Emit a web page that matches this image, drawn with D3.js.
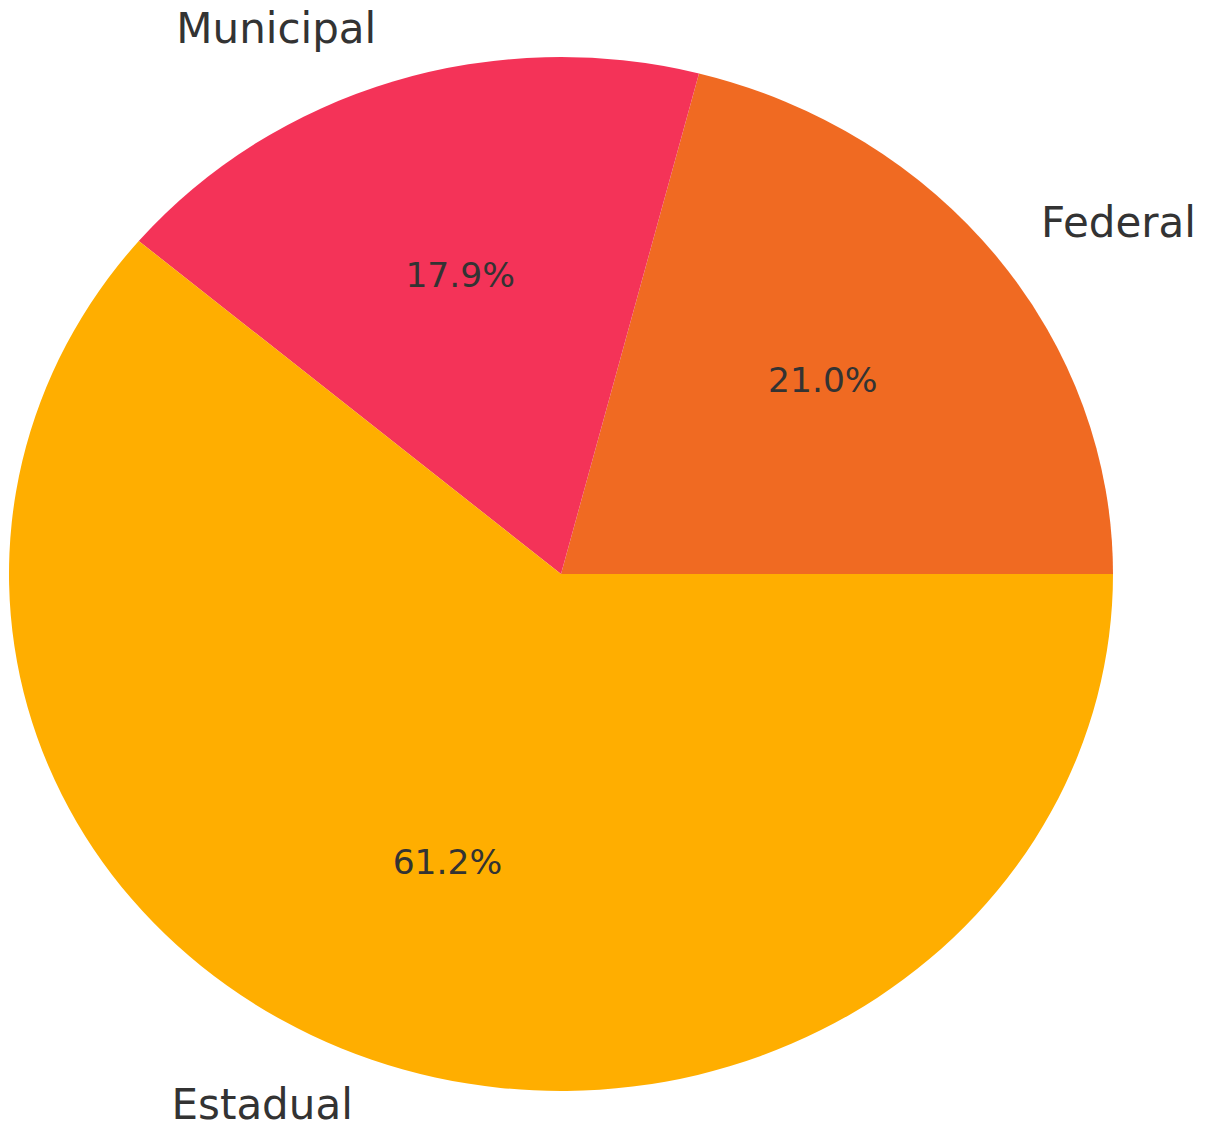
<!DOCTYPE html>
<html>
<head>
<meta charset="utf-8">
<script src="https://cdn.jsdelivr.net/npm/d3@7"></script>
<style>
  html, body { margin: 0; padding: 0; background: #fff; }
  svg { display: block; }
</style>
</head>
<body>
<svg id="chart"></svg>
<script>
const categories = ["Federal", "Municipal", "Estadual"];
const shares = [21.0, 17.9, 61.2];
const colors = ["#F06A22", "#F43358", "#FFAE00"];

const width = 1207, height = 1127;
const cx = 561, cy = 574;
const rx = 552, ry = 517;   // the pie is stretched a bit horizontally

const svg = d3.select("#chart")
    .attr("width", width)
    .attr("height", height);

const data = categories.map((name, i) => ({ name: name, value: shares[i], color: colors[i] }));

// counterclockwise from 3 o'clock, like the original
const pie = d3.pie()
    .value(d => d.value)
    .sort(null)
    .startAngle(Math.PI / 2)
    .endAngle(Math.PI / 2 - 2 * Math.PI);

const arcs = pie(data);

const arc = d3.arc()
    .innerRadius(0)
    .outerRadius(rx);

svg.append("g")
    .attr("transform", `translate(${cx},${cy}) scale(1,${ry / rx})`)
    .selectAll("path")
    .data(arcs)
    .join("path")
    .attr("d", arc)
    .attr("fill", d => d.data.color);

// d3 angle -> screen position on the ellipse at a given fraction of the radius
function pos(d, k) {
    const a = (d.startAngle + d.endAngle) / 2;
    return [cx + k * rx * Math.sin(a), cy - k * ry * Math.cos(a)];
}

const font = "'DejaVu Sans', sans-serif";

svg.append("g")
    .selectAll("text")
    .data(arcs)
    .join("text")
    .attr("x", d => pos(d, 1.1)[0])
    .attr("y", d => pos(d, 1.1)[1])
    .attr("dy", "0.26em")
    .attr("text-anchor", d => Math.sin((d.startAngle + d.endAngle) / 2) > 0 ? "start" : "end")
    .attr("font-family", font)
    .attr("font-size", "42px")
    .attr("fill", "#333333")
    .text(d => d.data.name);

svg.append("g")
    .selectAll("text")
    .data(arcs)
    .join("text")
    .attr("x", d => pos(d, 0.6)[0])
    .attr("y", d => pos(d, 0.6)[1])
    .attr("dy", "0.24em")
    .attr("text-anchor", "middle")
    .attr("font-family", font)
    .attr("font-size", "34.5px")
    .attr("fill", "#333333")
    .text(d => d.data.value.toFixed(1) + "%");
</script>
</body>
</html>
